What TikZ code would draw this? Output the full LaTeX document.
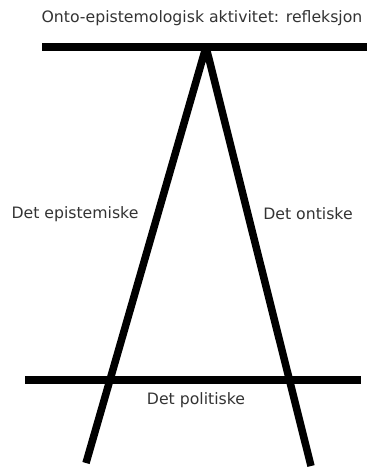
\documentclass[tikz,border=0pt]{standalone}
\usepackage{fontspec}
\setmainfont{DejaVu Sans}
\begin{document}
\begin{tikzpicture}[
    x=1pt, y=-1pt,
    bar/.style={draw, line width=7.5pt},
    every node/.style={font=\fontsize{15.7}{18}\selectfont, text=black!80, inner sep=0pt}
]
    \useasboundingbox (0,0) rectangle (367,468);
    % top line and apex
    \coordinate (topl) at (42,47);
    \coordinate (topr) at (367,47);
    \coordinate (apex) at (206,47);
    % bottom line
    \coordinate (botl) at (25,380);
    \coordinate (botr) at (361,380);
    % legs
    \coordinate (legl) at (86,463);
    \coordinate (legr) at (311,466);
    \draw[bar] (topl) -- (topr);
    \draw[bar] (botl) -- (botr);
    \draw[bar, line join=bevel] (legl) -- (apex) -- (legr);
    % labels
    \node (refl) at (202,18) {Onto-epistemologisk aktivitet: refleksjon};
    \node (epis) at (75,214) {Det epistemiske};
    \node (onto) at (308,214) {Det ontiske};
    \node (poli) at (196,400) {Det politiske};
\end{tikzpicture}
\end{document}
